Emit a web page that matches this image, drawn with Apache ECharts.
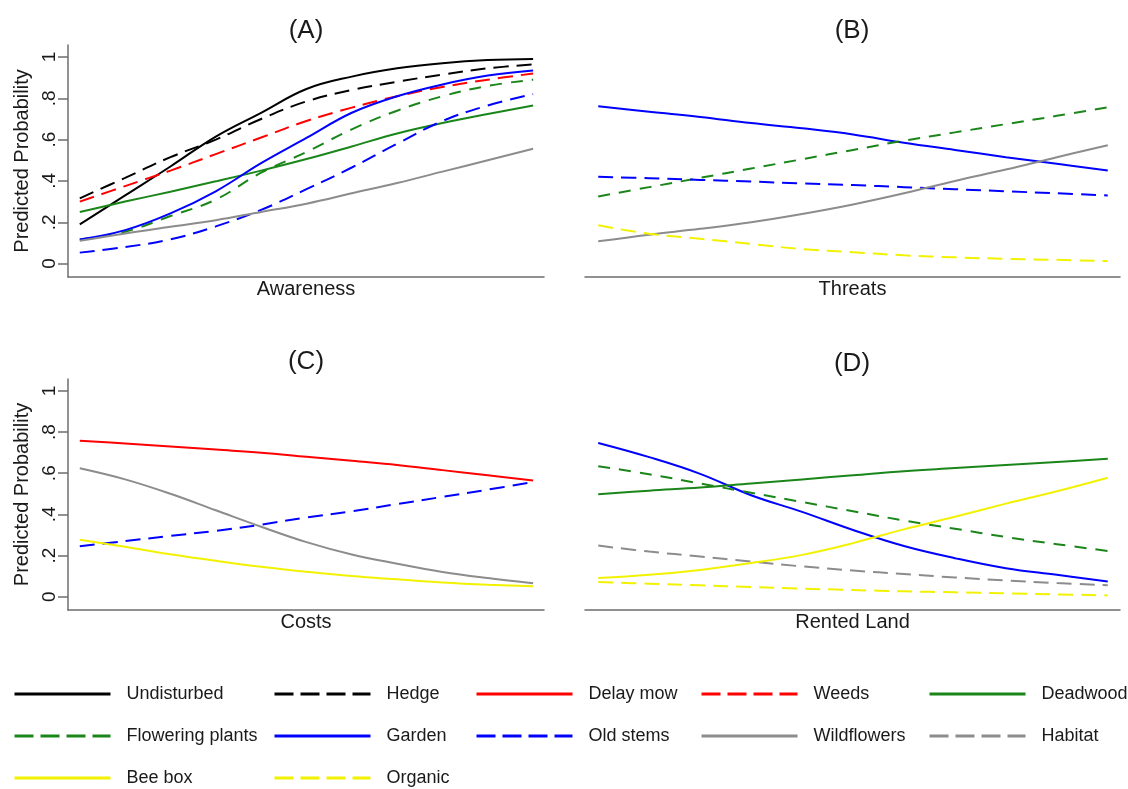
<!DOCTYPE html>
<html>
<head>
<meta charset="utf-8">
<script src="https://cdn.jsdelivr.net/npm/echarts@6/dist/echarts.min.js"></script>
<style>
  html, body { margin: 0; padding: 0; background: #fff; }
  #chart { width: 1128px; height: 789px; }
</style>
</head>
<body>
<div id="chart"></div>
<script>
// x positions (scaled 0..1 along each covariate)
const xs = [0, 0.1, 0.2, 0.3, 0.4, 0.5, 0.6, 0.7, 0.8, 0.9, 1];
const yTicks = [0, 0.2, 0.4, 0.6, 0.8, 1];

// (A) Awareness
const aUndisturbed = [0.19, 0.33, 0.47, 0.615, 0.73, 0.845, 0.905, 0.945, 0.97, 0.985, 0.99];
const aHedge = [0.316, 0.415, 0.515, 0.60, 0.70, 0.785, 0.84, 0.88, 0.915, 0.945, 0.964];
const aWeeds = [0.30, 0.375, 0.45, 0.53, 0.61, 0.69, 0.755, 0.81, 0.855, 0.89, 0.92];
const aDeadwood = [0.25, 0.30, 0.348, 0.398, 0.45, 0.506, 0.567, 0.63, 0.68, 0.724, 0.765];
const aGarden = [0.117, 0.162, 0.243, 0.35, 0.486, 0.608, 0.73, 0.81, 0.867, 0.91, 0.935];
const aFlowering = [0.117, 0.154, 0.23, 0.31, 0.44, 0.54, 0.65, 0.74, 0.81, 0.86, 0.89];
const aOldStems = [0.053, 0.08, 0.117, 0.18, 0.26, 0.36, 0.465, 0.58, 0.69, 0.765, 0.82];
const aWildflowers = [0.11, 0.146, 0.178, 0.21, 0.25, 0.29, 0.34, 0.39, 0.445, 0.50, 0.556];

// (B) Threats
const bGarden = [0.762, 0.735, 0.71, 0.68, 0.655, 0.625, 0.585, 0.55, 0.515, 0.483, 0.45];
const bFlowering = [0.325, 0.37, 0.415, 0.46, 0.505, 0.55, 0.595, 0.635, 0.675, 0.715, 0.756];
const bOldStems = [0.42, 0.413, 0.405, 0.397, 0.388, 0.38, 0.37, 0.36, 0.35, 0.34, 0.33];
const bWildflowers = [0.108, 0.14, 0.168, 0.20, 0.24, 0.286, 0.34, 0.40, 0.455, 0.515, 0.573];
const bOrganic = [0.185, 0.144, 0.12, 0.095, 0.07, 0.055, 0.04, 0.03, 0.023, 0.018, 0.012];

// (C) Costs
const cDelayMow = [0.758, 0.745, 0.73, 0.715, 0.70, 0.68, 0.66, 0.64, 0.615, 0.59, 0.565];
const cOldStems = [0.245, 0.27, 0.295, 0.32, 0.35, 0.385, 0.415, 0.45, 0.485, 0.52, 0.557];
const cWildflowers = [0.624, 0.57, 0.50, 0.42, 0.34, 0.265, 0.205, 0.16, 0.12, 0.09, 0.065];
const cBeeBox = [0.277, 0.242, 0.206, 0.174, 0.145, 0.121, 0.10, 0.084, 0.069, 0.058, 0.05];

// (D) Rented Land
const dGarden = [0.747, 0.678, 0.597, 0.493, 0.412, 0.324, 0.246, 0.187, 0.138, 0.106, 0.074];
const dDeadwood = [0.498, 0.515, 0.53, 0.55, 0.57, 0.59, 0.61, 0.625, 0.64, 0.655, 0.67];
const dFlowering = [0.634, 0.595, 0.55, 0.505, 0.46, 0.415, 0.37, 0.33, 0.29, 0.255, 0.222];
const dHabitat = [0.248, 0.219, 0.195, 0.17, 0.147, 0.127, 0.11, 0.093, 0.079, 0.066, 0.055];
const dBeeBox = [0.09, 0.106, 0.13, 0.163, 0.203, 0.26, 0.327, 0.388, 0.452, 0.512, 0.578];
const dOrganic = [0.071, 0.063, 0.055, 0.047, 0.039, 0.032, 0.026, 0.021, 0.016, 0.011, 0.006];

const panelTitles = ["(A)", "(B)", "(C)", "(D)"];
const panelXNames = ["Awareness", "Threats", "Costs", "Rented Land"];

const FONT = "'Liberation Sans', Arial, sans-serif";
const DASH = [15, 8];
const SHORT_DASH = [12, 9];
const LEGEND_DASH = [19, 7];

// line styles per practice
const styles = {
  "Undisturbed": { color: "#000000", type: "solid" },
  "Hedge": { color: "#000000", type: DASH },
  "Delay mow": { color: "#ff0000", type: "solid" },
  "Weeds": { color: "#ff0000", type: DASH },
  "Deadwood": { color: "#1a861a", type: "solid" },
  "Flowering plants": { color: "#1a861a", type: SHORT_DASH },
  "Garden": { color: "#0000ff", type: "solid" },
  "Old stems": { color: "#0000ff", type: DASH },
  "Wildflowers": { color: "#8c8c8c", type: "solid" },
  "Habitat": { color: "#8c8c8c", type: DASH },
  "Bee box": { color: "#f2f200", type: "solid" },
  "Organic": { color: "#f2f200", type: DASH },
};

const panels = [
  [["Undisturbed", aUndisturbed], ["Hedge", aHedge], ["Weeds", aWeeds], ["Deadwood", aDeadwood],
   ["Flowering plants", aFlowering], ["Garden", aGarden], ["Old stems", aOldStems], ["Wildflowers", aWildflowers]],
  [["Garden", bGarden], ["Flowering plants", bFlowering], ["Old stems", bOldStems],
   ["Wildflowers", bWildflowers], ["Organic", bOrganic]],
  [["Delay mow", cDelayMow], ["Old stems", cOldStems], ["Wildflowers", cWildflowers], ["Bee box", cBeeBox]],
  [["Garden", dGarden], ["Deadwood", dDeadwood], ["Flowering plants", dFlowering],
   ["Habitat", dHabitat], ["Bee box", dBeeBox], ["Organic", dOrganic]],
];

const grids = [
  { left: 68, right: 584, top: 45, height: 232 },
  { left: 585, right: 8, top: 45, height: 232 },
  { left: 68, right: 584, top: 379, height: 231 },
  { left: 585, right: 8, top: 379, height: 231 },
];

const axisColor = "#6e6e6e";
const tickFmt = (v) => (v === 0 ? "0" : v === 1 ? "1" : v.toFixed(1).replace(/^0/, ""));

const xAxes = grids.map((g, i) => ({
  type: "value",
  gridIndex: i,
  min: -0.026,
  max: 1.024,
  name: panelXNames[i],
  nameLocation: "middle",
  nameGap: 2,
  nameTextStyle: { fontFamily: FONT, fontSize: 20, color: "#1a1a1a", verticalAlign: "top" },
  axisLine: { show: true, onZero: false, lineStyle: { color: axisColor, width: 1.5 } },
  axisTick: { show: false },
  axisLabel: { show: false },
  splitLine: { show: false },
}));

const yAxes = grids.map((g, i) => {
  const left = i % 2 === 0;
  return {
    type: "value",
    gridIndex: i,
    min: -0.065,
    max: 1.058,
    show: left,
    name: left ? "Predicted Probability" : "",
    nameLocation: "middle",
    nameGap: 36,
    nameTextStyle: { fontFamily: FONT, fontSize: 20, color: "#1a1a1a" },
    axisLine: { show: true, onZero: false, lineStyle: { color: axisColor, width: 1.5 } },
    axisTick: { show: true, length: 10, customValues: yTicks, lineStyle: { color: axisColor, width: 1.5 } },
    axisLabel: {
      customValues: yTicks,
      rotate: 90,
      margin: 9,
      fontFamily: FONT,
      fontSize: 19,
      color: "#1a1a1a",
      formatter: tickFmt,
    },
    splitLine: { show: false },
  };
});

const series = [];
panels.forEach((list, i) => {
  list.forEach(([name, vals]) => {
    series.push({
      name: name,
      type: "line",
      xAxisIndex: i,
      yAxisIndex: i,
      data: xs.map((x, k) => [x, vals[k]]),
      smooth: 0.4,
      symbol: "none",
      lineStyle: { color: styles[name].color, type: styles[name].type, width: 2 },
      itemStyle: { color: styles[name].color },
      emphasis: { disabled: true },
    });
  });
});

// legend rows / columns
const legendRows = [
  ["Undisturbed", "Hedge", "Delay mow", "Weeds", "Deadwood"],
  ["Flowering plants", "Garden", "Old stems", "Wildflowers", "Habitat"],
  ["Bee box", "Organic"],
];
const legendCols = [13, 273, 475, 700, 928];
const legendRowY = [695, 737, 779];

const legends = [];
legendRows.forEach((row, r) => {
  row.forEach((name, c) => {
    const st = styles[name];
    legends.push({
      data: [{
        name: name,
        itemStyle: { opacity: 0 },
        lineStyle: { width: 3, type: st.type === "solid" ? "solid" : LEGEND_DASH },
      }],
      orient: "horizontal",
      left: legendCols[c],
      top: legendRowY[r] - 10,
      itemWidth: 96,
      itemHeight: 20,
      padding: 0,
      selectedMode: false,
      textStyle: { fontFamily: FONT, fontSize: 18, color: "#1a1a1a", padding: [0, 0, 0, 11] },
    });
  });
});

const titles = [
  { text: panelTitles[0], left: 306, top: 18 },
  { text: panelTitles[1], left: 852, top: 18 },
  { text: panelTitles[2], left: 306, top: 349 },
  { text: panelTitles[3], left: 852, top: 351 },
].map((t) => ({
  ...t,
  textAlign: "center",
  padding: 0,
  textStyle: { fontFamily: FONT, fontSize: 26, fontWeight: "normal", color: "#1a1a1a" },
}));

const chart = echarts.init(document.getElementById("chart"), null, { renderer: "canvas" });
chart.setOption({
  animation: false,
  backgroundColor: "#ffffff",
  title: titles,
  grid: grids,
  xAxis: xAxes,
  yAxis: yAxes,
  legend: legends,
  series: series,
});
</script>
</body>
</html>
